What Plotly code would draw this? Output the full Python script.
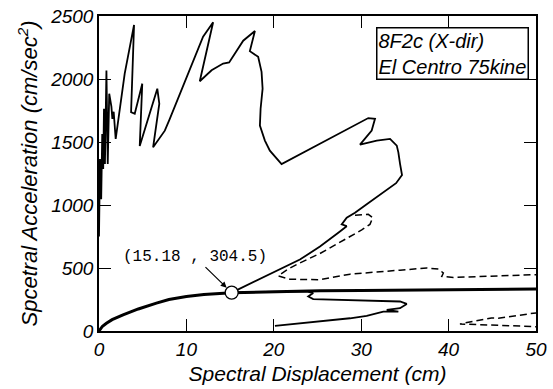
import plotly.graph_objects as go

# Demand spectrum (solid, thin)
sd_solid = [0.0, 0.11, 0.25, 0.37, 0.48, 0.57, 0.68, 0.85, 1.0, 1.17, 1.42, 1.53, 1.68, 1.91,
            2.94, 4.01, 3.67, 4.09, 4.95, 4.66, 6.67, 6.9, 6.19, 7.53, 8.1, 11.91, 13.06, 11.53,
            12.88, 14.2, 14.89, 16.5, 17.84, 17.26, 18.21, 18.6, 18.72, 18.49, 18.41, 18.98,
            19.55, 20.89, 30.81, 31.58, 31.2, 29.86, 31.78, 33.3, 34.07, 34.25, 34.45, 34.67,
            33.99, 32.15, 30.63, 29.29, 28.34, 27.77, 28.34, 27.38, 25.28, 22.99, 15.18,
            19.0, 23.0, 23.76, 24.51, 23.94, 24.51, 28.72, 34.44, 35.21, 34.44, 32.92, 34.25,
            32.53, 30.63, 28.72, 24.9, 22.99, 20.13]
sa_solid = [750, 1365, 1045, 1564, 1285, 1764, 1325, 2067, 1325, 1883, 1780, 1684, 1740, 1524,
            2043, 2429, 1737, 1724, 1963, 1468, 1923, 1804, 1458, 1590, 1684, 2336, 2450, 1982,
            2069, 2123, 2131, 2304, 2381, 2221, 2176, 2057, 1923, 1764, 1630, 1511,
            1431, 1325, 1690, 1684, 1591, 1479, 1511, 1524, 1471, 1418, 1325, 1237,
            1173, 1085, 1006, 939, 899, 846, 832, 780, 670, 567, 304.5,
            310, 314, 314, 301, 274, 253, 247, 234, 215, 181, 168, 154,
            154, 120, 101, 74, 61, 40]

# Demand spectrum (dashed)
sd_dash = [29.29, 30.81, 31.32, 31.0, 30.06, 28.52, 25.28, 22.99, 21.73, 20.5, 21.84, 25.28,
           28.72, 34.44, 37.5, 38.83, 39.4, 39.22, 40.55, 49.9, 51.0, 51.0, 49.7, 45.7, 44.9,
           41.3, 49.7, 51.0]
sa_dash = [918, 926, 899, 846, 802, 740, 615, 540, 495, 437, 411, 407,
           451, 483, 500, 492, 460, 433, 425, 447, 451, 152, 141, 101, 104,
           56, 34, 32]

# Capacity curve (thick)
sd_cap = [0.0, 0.4, 0.85, 1.5, 2.75, 4.5, 6.57, 8.0, 10.0, 12.0, 15.18, 20.0, 25.3, 30.0, 40.0, 50.0]
sa_cap = [0, 38, 61, 90, 128, 175, 221, 250, 274, 289, 304.5, 314, 319, 322, 327, 333]

# Performance point
pp_sd = [15.18]
pp_sa = [304.5]
pp_label = "(15.18 , 304.5)"

x_ticks = [0, 10, 20, 30, 40, 50]
y_ticks = [0, 500, 1000, 1500, 2000, 2500]

FONT = "Liberation Sans, Arial"

fig = go.Figure()
fig.add_trace(go.Scatter(x=sd_solid, y=sa_solid, mode="lines",
                         line=dict(color="black", width=1.8), showlegend=False))
fig.add_trace(go.Scatter(x=sd_dash, y=sa_dash, mode="lines",
                         line=dict(color="black", width=1.5, dash="7px,4px"), showlegend=False))
fig.add_trace(go.Scatter(x=sd_cap, y=sa_cap, mode="lines",
                         line=dict(color="black", width=3), showlegend=False))
fig.add_trace(go.Scatter(x=pp_sd, y=pp_sa, mode="markers",
                         marker=dict(symbol="circle", size=13, color="white",
                                     line=dict(color="black", width=1.3)),
                         showlegend=False))

fig.add_annotation(x=pp_sd[0], y=pp_sa[0], xref="x", yref="y", text=pp_label,
                   showarrow=True, arrowhead=2, arrowsize=1, arrowwidth=1.2,
                   arrowcolor="black", standoff=7, ax=-37, ay=-36,
                   font=dict(family="Liberation Mono, monospace", size=16, color="black"))

fig.add_annotation(x=0.985, y=0.965, xref="paper", yref="paper", xanchor="right", yanchor="top",
                   text="8F2c (X-dir)<br>El Centro 75kine", showarrow=False, align="left",
                   font=dict(family=FONT, size=20, color="black", style="italic"),
                   bordercolor="black", borderwidth=1.5, borderpad=1, bgcolor="white")

axis_common = dict(showline=True, linecolor="black", linewidth=1.5, mirror="ticks",
                   ticks="inside", ticklen=12, tickwidth=1.3, tickcolor="black",
                   showgrid=False, zeroline=False, automargin=False,
                   ticklabeloverflow="allow",
                   tickfont=dict(family=FONT, size=19, color="black", style="italic"))

fig.update_xaxes(range=[0, 50], tickvals=x_ticks, ticktext=[str(v) for v in x_ticks],
                 title=dict(text="Spectral Displacement (cm)", standoff=8,
                            font=dict(family=FONT, size=21, color="black", style="italic")),
                 **axis_common)
fig.update_yaxes(range=[0, 2500], tickvals=y_ticks, ticktext=[str(v) for v in y_ticks],
                 title=dict(text="Spcetral Acceleration (cm/sec<sup>2</sup>)", standoff=6,
                            font=dict(family=FONT, size=22, color="black", style="italic")),
                 **axis_common)

fig.update_layout(width=553, height=389, margin=dict(l=99, r=17, t=16, b=58),
                  paper_bgcolor="white", plot_bgcolor="white")

# remove the page's default body margin so the figure fills the window exactly
fig.write_html("out.html", config={"displayModeBar": False},
               post_script="document.body.style.margin='0';")
